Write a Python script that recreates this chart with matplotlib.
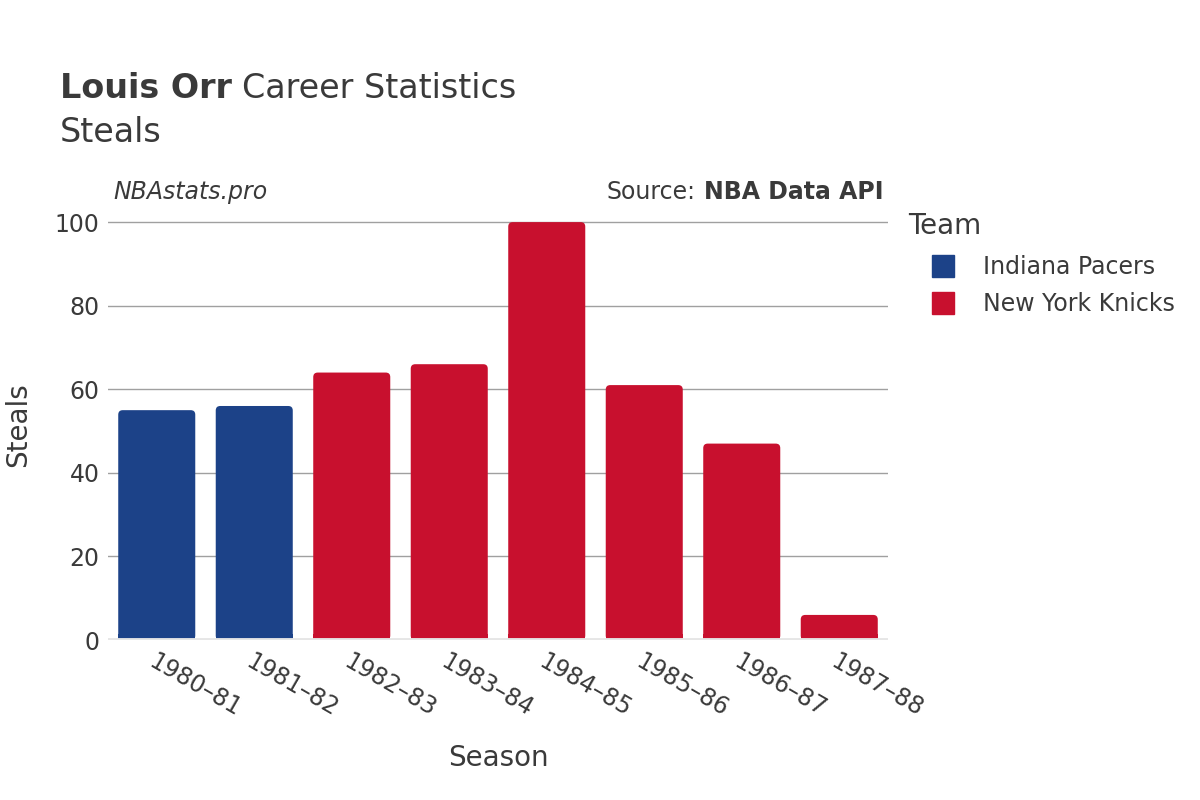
import matplotlib.pyplot as plt
from matplotlib.patches import FancyBboxPatch, Rectangle
from matplotlib.lines import Line2D

# Data
seasons = ['1980–81', '1981–82', '1982–83', '1983–84',
           '1984–85', '1985–86', '1986–87', '1987–88']
steals = [55, 56, 64, 66, 100, 61, 47, 6]
teams = ['Indiana Pacers', 'Indiana Pacers', 'New York Knicks', 'New York Knicks',
         'New York Knicks', 'New York Knicks', 'New York Knicks', 'New York Knicks']
team_names = ['Indiana Pacers', 'New York Knicks']
team_colors = {'Indiana Pacers': '#1C4288', 'New York Knicks': '#C8102E'}

TEXT = '#3a3a3a'
plt.rcParams['font.family'] = ['DejaVu Sans']

figure = plt.figure(figsize=(12, 8), dpi=100)
axes = figure.add_axes([108 / 1200, 160 / 800, 780 / 1200, 430 / 800])

x = list(range(len(seasons)))
bars = axes.bar(x, steals, width=0.79,
                color=[team_colors[t] for t in teams], zorder=3)

# Swap plain bars for bars with rounded top corners
axes.set_xlim(-0.5, len(seasons) - 0.5)
axes.set_ylim(0, 102.9)
px_x = 780 / len(seasons)        # pixels per x unit
px_y = 430 / 102.9               # pixels per y unit
radius = 4.5 / px_x
for bar in bars:
    bx, by = bar.get_x(), bar.get_y()
    bw, bh = bar.get_width(), bar.get_height()
    col = bar.get_facecolor()
    bar.set_visible(False)
    axes.add_patch(FancyBboxPatch((bx, by), bw, bh,
                                  boxstyle='round,pad=0,rounding_size=%f' % radius,
                                  mutation_aspect=px_x / px_y,
                                  facecolor=col, edgecolor='none', zorder=3))
    low = min(bh, 6 / px_y)
    axes.add_patch(Rectangle((bx, by), bw, low, facecolor=col,
                             edgecolor='none', zorder=3))

# Grid and axes styling
axes.set_yticks([0, 20, 40, 60, 80, 100])
axes.yaxis.grid(True, color='#a0a0a0', linewidth=1, zorder=0)
axes.axhline(0, color='#e6e6e6', linewidth=3.5, zorder=4)
for side in axes.spines.values():
    side.set_visible(False)
axes.tick_params(axis='both', length=0, labelsize=17, labelcolor=TEXT)
axes.tick_params(axis='y', pad=6)
axes.set_xticks(x)
axes.set_xticklabels(seasons, rotation=-30, ha='left', va='top',
                     rotation_mode='anchor')
axes.tick_params(axis='x', pad=7)

axes.set_xlabel('Season', fontsize=20, color=TEXT, labelpad=16)
axes.set_ylabel('Steals', fontsize=20, color=TEXT, labelpad=16)

# Titles and annotations
t1 = figure.text(60 / 1200, 1 - 88 / 800, 'Louis Orr', fontsize=24,
                 color=TEXT, va='center', fontweight='bold')
figure.canvas.draw()
bb = t1.get_window_extent()
figure.text((bb.x1 + 10) / 1200, 1 - 88 / 800, 'Career Statistics',
            fontsize=24, color=TEXT, va='center')
figure.text(60 / 1200, 1 - 132 / 800, 'Steals', fontsize=24, color=TEXT,
            va='center')
figure.text(113 / 1200, 1 - 192 / 800, 'NBAstats.pro', fontsize=17,
            style='italic', color=TEXT, va='center')
src = figure.text(884 / 1200, 1 - 192 / 800, 'NBA Data API', fontsize=17,
                  fontweight='bold', color=TEXT, va='center', ha='right')
figure.canvas.draw()
sb = src.get_window_extent()
figure.text((sb.x0 - 9) / 1200, 1 - 192 / 800, 'Source:', fontsize=17,
            color=TEXT, va='center', ha='right')

# Legend
figure.text(908 / 1200, 1 - 226 / 800, 'Team', fontsize=20, color=TEXT,
            va='center')
handles = [Line2D([], [], marker='s', linestyle='none', markersize=16,
                  markerfacecolor=team_colors[t], markeredgecolor=team_colors[t])
           for t in team_names]
legend = figure.legend(handles, team_names, loc='upper left',
                       bbox_to_anchor=(898 / 1200, 1 - 234 / 800),
                       frameon=False, fontsize=17, handletextpad=0.7,
                       labelspacing=0.55)
for txt in legend.get_texts():
    txt.set_color(TEXT)

figure.savefig('out.png', dpi=100, facecolor='white')
